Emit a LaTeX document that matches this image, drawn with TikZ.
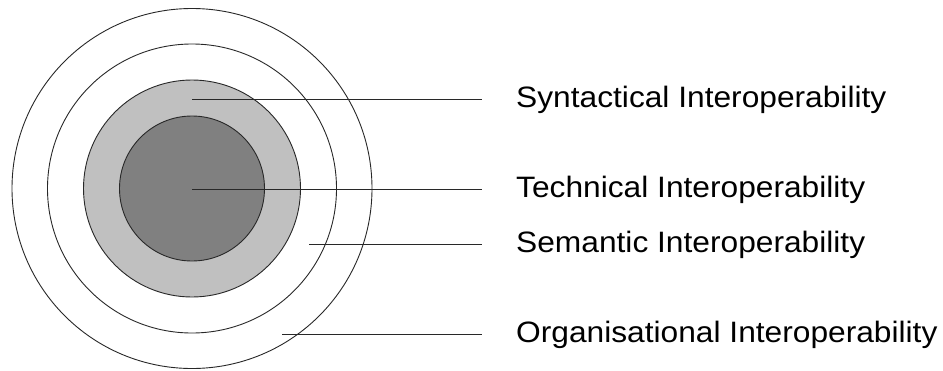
\documentclass[tikz,border=0pt]{standalone}
\usepackage{fontspec}
\newfontfamily\labfont[FakeStretch=1.075]{Liberation Sans}
\definecolor{lightfill}{RGB}{192,192,192}
\definecolor{darkfill}{RGB}{128,128,128}
\definecolor{edge}{RGB}{40,40,40}
\tikzset{
  ring/.style={circle, draw=edge, line width=0.9pt, inner sep=0pt},
  lab/.style={anchor=base west, inner sep=0pt, font=\labfont\fontsize{29.5}{32}\selectfont},
  leader/.style={draw=edge, line width=0.8pt, shorten >=34pt}
}
\begin{document}
\begin{tikzpicture}[x=1pt,y=-1pt]
\useasboundingbox (0,0) rectangle (943,370);
% rings
\node[ring, minimum size=360pt] (org) at (192,188.5) {};
\node[ring, minimum size=289pt] (sem) at (192,188.5) {};
\node[ring, fill=lightfill, minimum size=217pt] (syn) at (192,188.5) {};
\node[ring, fill=darkfill, minimum size=145pt] (tec) at (192,188.5) {};
% leader start points
\coordinate (psyn) at (192,99);
\coordinate (ptec) at (192,189);
\coordinate (psem) at (309,244);
\coordinate (porg) at (282,334);
% labels
\node[lab] (lsyn) at (516,107.3) {Syntactical Interoperability};
\node[lab] (ltec) at (516,197.3) {Technical Interoperability};
\node[lab] (lsem) at (516,252.3) {Semantic Interoperability};
\node[lab] (lorg) at (516,342.3) {Organisational Interoperability};
% leaders
\draw[leader] (psyn) -- (psyn -| lsyn.west);
\draw[leader] (ptec) -- (ptec -| ltec.west);
\draw[leader] (psem) -- (psem -| lsem.west);
\draw[leader] (porg) -- (porg -| lorg.west);
\end{tikzpicture}
\end{document}
